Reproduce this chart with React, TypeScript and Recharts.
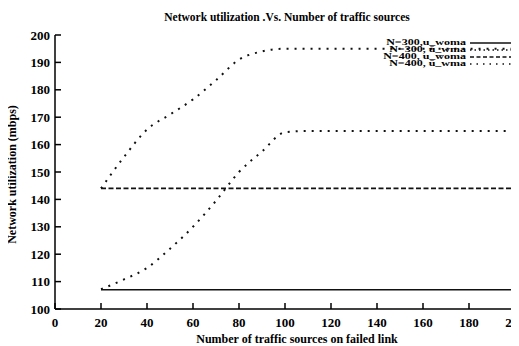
import React from 'react';
import { LineChart, Line, XAxis, YAxis } from 'recharts';

const xValues = [20, 30, 40, 50, 60, 70, 80, 90, 100, 110, 120, 130, 140, 150, 160, 170, 180, 190, 200];
const woma300 = [107, 107, 107, 107, 107, 107, 107, 107, 107, 107, 107, 107, 107, 107, 107, 107, 107, 107, 107];
const wma300 = [107.2, 110.8, 115, 122, 130, 139.5, 150, 157.5, 164.5, 165, 165, 165, 165, 165, 165, 165, 165, 165, 165];
const woma400 = [144, 144, 144, 144, 144, 144, 144, 144, 144, 144, 144, 144, 144, 144, 144, 144, 144, 144, 144];
const wma400 = [144, 155.5, 165.5, 171, 176.5, 183.5, 191, 194, 195, 195, 195, 195, 195, 195, 195, 195, 195, 195, 195];
const xTicks = [0, 20, 40, 60, 80, 100, 120, 140, 160, 180, 200];
const yTicks = [100, 110, 120, 130, 140, 150, 160, 170, 180, 190, 200];
const seriesNames = ['N=300,u_woma', 'N=300, ū_wma', 'N=400, u_w̄oma', 'N=400, ū_wma'];
const titleText = 'Network utilization  .Vs. Number of traffic sources';
const xLabel = 'Number of traffic sources on failed link';
const yLabel = 'Network utilization (mbps)';

const data = xValues.map((x, i) => ({ x, a: woma300[i], b: wma300[i], c: woma400[i], d: wma400[i] }));

const FONT = '"Liberation Serif", "DejaVu Serif", serif';

const BottomTick = (props: any) => {
  const { x, y, payload } = props;
  return (
    <g>
      <line x1={x} y1={y} x2={x} y2={y - 6} stroke="#000" strokeWidth={1.5} />
      <text x={x} y={y + 18} textAnchor="middle" fontFamily={FONT} fontWeight="bold" fontSize={13} fill="#000">
        {payload.value}
      </text>
    </g>
  );
};

const TopTick = (props: any) => {
  const { x, y } = props;
  return <line x1={x} y1={y} x2={x} y2={y + 6} stroke="#000" strokeWidth={1.5} />;
};

const LeftTick = (props: any) => {
  const { x, y, payload } = props;
  return (
    <g>
      <line x1={x} y1={y} x2={x + 6} y2={y} stroke="#000" strokeWidth={1.5} />
      <text x={x - 5} y={y + 4.5} textAnchor="end" fontFamily={FONT} fontWeight="bold" fontSize={13} fill="#000">
        {payload.value}
      </text>
    </g>
  );
};

const RightTick = (props: any) => {
  const { x, y } = props;
  return <line x1={x} y1={y} x2={x - 6} y2={y} stroke="#000" strokeWidth={1.5} />;
};

const legendStyles = [
  { dash: undefined, w: 1.5 },
  { dash: '1.5 3', w: 1.5 },
  { dash: '4 2.5', w: 1.5 },
  { dash: '1.5 5', w: 1.5 },
];

export default function App() {
  return (
    <div style={{ position: 'relative', width: 519, height: 346, overflow: 'hidden', margin: '-8px 0 0 -8px', background: '#fff' }}>
      <LineChart width={530} height={346} data={data} margin={{ top: 35, right: 15, bottom: 7, left: 0 }}>
        <XAxis
          dataKey="x"
          type="number"
          domain={[0, 200]}
          ticks={xTicks}
          height={30}
          tickSize={0}
          tickMargin={0}
          tickLine={false}
          axisLine={{ stroke: '#000', strokeWidth: 1.5 }}
          tick={<BottomTick />}
          interval={0}
        />
        <XAxis
          xAxisId="top"
          orientation="top"
          type="number"
          domain={[0, 200]}
          ticks={xTicks}
          height={0}
          tickSize={0}
          tickMargin={0}
          tickLine={false}
          axisLine={{ stroke: '#000', strokeWidth: 1.5 }}
          tick={<TopTick />}
          interval={0}
        />
        <YAxis
          type="number"
          domain={[100, 200]}
          ticks={yTicks}
          width={55}
          tickSize={0}
          tickMargin={0}
          tickLine={false}
          axisLine={{ stroke: '#000', strokeWidth: 1.5 }}
          tick={<LeftTick />}
          interval={0}
        />
        <YAxis
          yAxisId="right"
          orientation="right"
          type="number"
          domain={[100, 200]}
          ticks={yTicks}
          width={0}
          tickSize={0}
          tickMargin={0}
          tickLine={false}
          axisLine={{ stroke: '#000', strokeWidth: 1.5 }}
          tick={<RightTick />}
          interval={0}
        />
        <Line dataKey="a" name={seriesNames[0]} type="linear" stroke="#111" strokeWidth={1.5} dot={false} isAnimationActive={false} />
        <Line dataKey="b" name={seriesNames[1]} type="monotone" stroke="#111" strokeWidth={2} strokeDasharray="2 6" dot={false} isAnimationActive={false} />
        <Line dataKey="c" name={seriesNames[2]} type="linear" stroke="#111" strokeWidth={1.8} strokeDasharray="5 2.5" dot={false} isAnimationActive={false} />
        <Line dataKey="d" name={seriesNames[3]} type="monotone" stroke="#111" strokeWidth={2} strokeDasharray="2 6" dot={false} isAnimationActive={false} />
      </LineChart>

      <div style={{ position: 'absolute', left: 0, width: 574, top: 11, textAlign: 'center', fontFamily: FONT, fontWeight: 'bold', fontSize: 11.5, color: '#000' }}>
        {titleText}
      </div>
      <div style={{ position: 'absolute', left: 0, width: 594, top: 332, textAlign: 'center', fontFamily: FONT, fontWeight: 'bold', fontSize: 12, color: '#000' }}>
        {xLabel}
      </div>
      <div style={{ position: 'absolute', left: 12, top: 175, width: 0, height: 0 }}>
        <div style={{ position: 'absolute', left: -100, top: -8, width: 200, textAlign: 'center', transform: 'rotate(-90deg)', fontFamily: FONT, fontWeight: 'bold', fontSize: 12, color: '#000', whiteSpace: 'nowrap' }}>
          {yLabel}
        </div>
      </div>

      <div style={{ position: 'absolute', left: 330, top: 39, width: 182, fontFamily: FONT, fontWeight: 'bold', fontSize: 12, color: '#000' }}>
        {seriesNames.map((n, i) => (
          <div key={n} style={{ display: 'flex', alignItems: 'center', justifyContent: 'flex-end', height: 7.2, whiteSpace: 'nowrap' }}>
            <span style={{ marginRight: 4, display: 'inline-block', transform: 'scaleY(0.6)', lineHeight: '12px' }}>{n}</span>
            <svg width={42} height={6} style={{ overflow: 'visible' }}>
              <line x1={0} y1={3} x2={42} y2={3} stroke="#111" strokeWidth={legendStyles[i].w} strokeDasharray={legendStyles[i].dash} />
            </svg>
          </div>
        ))}
      </div>
    </div>
  );
}
